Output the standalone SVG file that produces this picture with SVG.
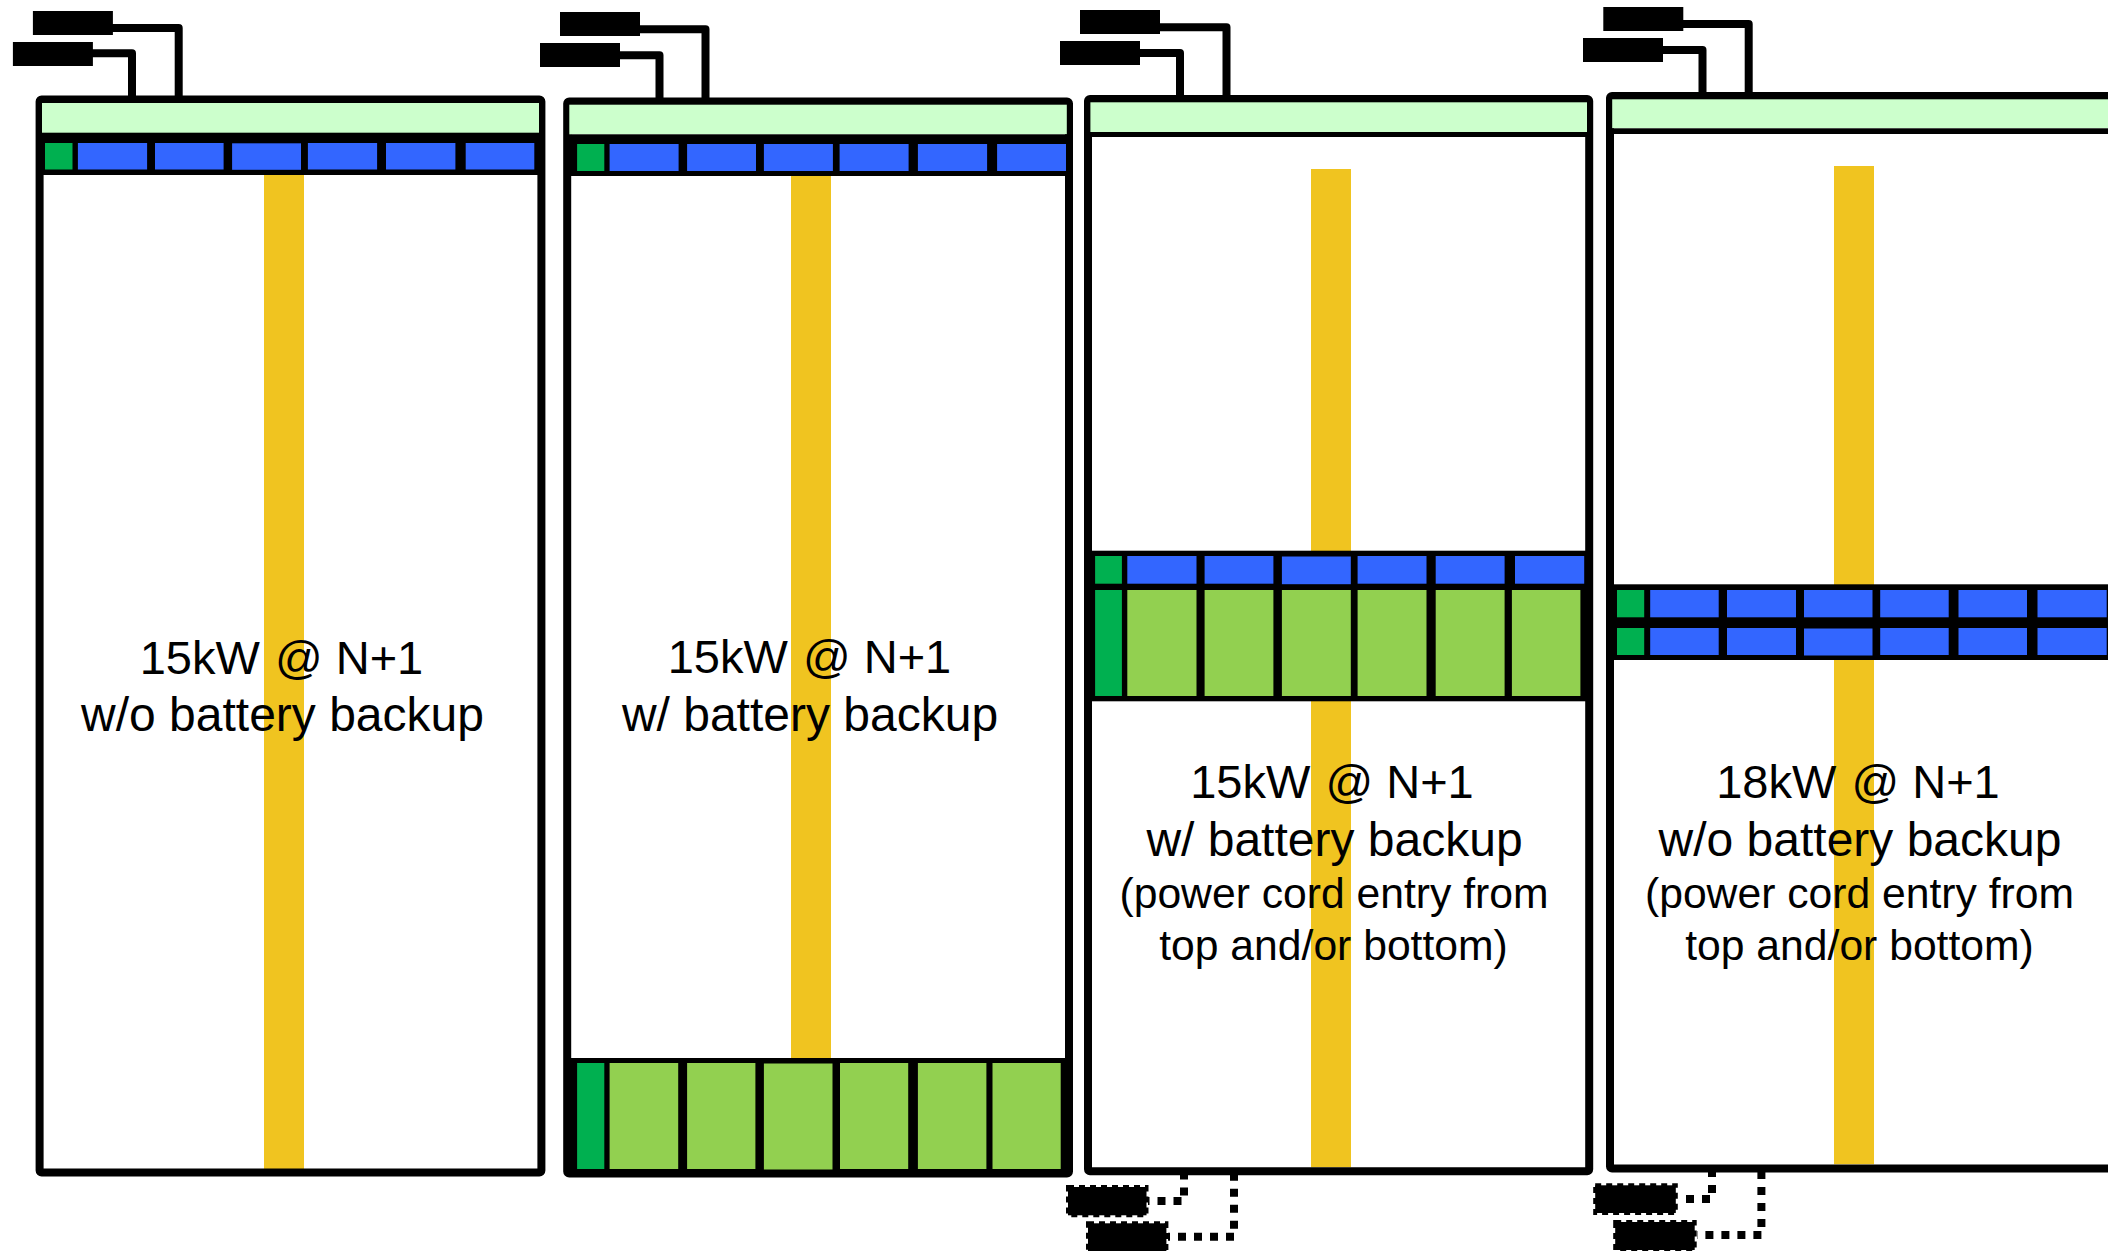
<svg xmlns="http://www.w3.org/2000/svg" width="2108" height="1251" viewBox="0 0 2108 1251">
<style>
.bg{fill:#fff}
.frame{fill:none;stroke:#000;stroke-width:8;stroke-linejoin:round}
.y{fill:#f0c420}
.p{fill:#ccffcc}
.k{fill:#000}
.g{fill:#00b050}
.b{fill:#3366ff}
.l{fill:#92d050}
.cord{fill:none;stroke:#000;stroke-width:8;stroke-linejoin:round}
.cordd{fill:none;stroke:#000;stroke-width:8;stroke-dasharray:8 8}
.plugd{fill:#000;stroke:#000;stroke-width:4;stroke-dasharray:6 5}
text{font-family:"Liberation Sans",Arial,sans-serif;fill:#000;text-anchor:middle}
.t0{font-size:47px}
.t1{font-size:48px}
.t2{font-size:42.67px}
</style>
<rect class="bg" width="2108" height="1251"/>
<g id="rack-1">
<rect class="y" x="264" y="170" width="40" height="999"/>
<rect class="frame" x="39.6" y="99.5" width="501.8" height="1073" rx="2"/>
<rect class="p" x="42" y="103" width="497" height="30"/>
<rect class="k" x="42" y="132.7" width="497" height="42.3"/>
<rect class="g" x="45" y="143" width="27.5" height="26.5"/>
<rect class="b" x="77.9" y="143" width="69.2" height="26.5"/>
<rect class="b" x="155" y="143" width="68.6" height="26.5"/>
<rect class="b" x="232.1" y="143.3" width="68.9" height="26.5"/>
<rect class="b" x="307.9" y="143" width="69.2" height="26.5"/>
<rect class="b" x="386" y="143" width="69.4" height="26.5"/>
<rect class="b" x="465.7" y="143" width="68.6" height="26.5"/>
<text class="t0" x="281.5" y="674">15kW <tspan dx="2">@</tspan> N+1</text>
<text class="t1" x="282.5" y="731">w/o battery backup</text>
</g>
<g id="rack-2">
<rect class="y" x="791" y="170" width="40" height="890"/>
<rect class="frame" x="567.2" y="101.4" width="501.8" height="1072" rx="2"/>
<rect class="p" x="569.3" y="104.7" width="497.5" height="29.6"/>
<rect class="k" x="571" y="134.3" width="496" height="41.7"/>
<rect class="g" x="577.1" y="144" width="27.2" height="27"/>
<rect class="b" x="609.6" y="144" width="69" height="27"/>
<rect class="b" x="687.1" y="144" width="68.9" height="27"/>
<rect class="b" x="763.9" y="144" width="69" height="27"/>
<rect class="b" x="839.6" y="144" width="69" height="27"/>
<rect class="b" x="917.9" y="144" width="69.2" height="27"/>
<rect class="b" x="997.1" y="144" width="68.9" height="27"/>
<rect class="k" x="571" y="1058" width="496" height="115"/>
<rect class="g" x="577.1" y="1063" width="27.2" height="106"/>
<rect class="l" x="609.6" y="1063" width="68.6" height="106"/>
<rect class="l" x="687.1" y="1063" width="68.3" height="106"/>
<rect class="l" x="763.9" y="1063.5" width="68.6" height="106"/>
<rect class="l" x="840" y="1063" width="68.2" height="106"/>
<rect class="l" x="917.9" y="1063" width="68.5" height="106"/>
<rect class="l" x="992.5" y="1063" width="68.2" height="106"/>
<text class="t0" x="809.5" y="673">15kW <tspan dx="2">@</tspan> N+1</text>
<text class="t1" x="810" y="731">w/ battery backup</text>
</g>
<g id="rack-3">
<rect class="y" x="1311" y="169" width="40" height="998.3"/>
<rect class="frame" x="1088" y="99" width="501.2" height="1072.3" rx="2"/>
<rect class="p" x="1090.4" y="102.3" width="496.6" height="29.7"/>
<rect class="k" x="1090" y="132" width="497" height="5"/>
<rect class="k" x="1090" y="550.7" width="497" height="150.6"/>
<rect class="g" x="1095.1" y="556" width="26.8" height="27.7"/>
<rect class="b" x="1127.3" y="556" width="69.2" height="27.7"/>
<rect class="b" x="1204.6" y="556" width="68.8" height="27.7"/>
<rect class="b" x="1281.9" y="556.5" width="68.9" height="27.7"/>
<rect class="b" x="1357.6" y="556" width="68.9" height="27.7"/>
<rect class="b" x="1435.7" y="556" width="68.9" height="27.7"/>
<rect class="b" x="1515" y="556" width="69.2" height="27.7"/>
<rect class="g" x="1095.1" y="590" width="26.8" height="106"/>
<rect class="l" x="1127.3" y="590" width="69.2" height="106"/>
<rect class="l" x="1204.6" y="590" width="68.8" height="106"/>
<rect class="l" x="1281.9" y="590" width="68.9" height="106"/>
<rect class="l" x="1357.6" y="590" width="68.9" height="106"/>
<rect class="l" x="1435.7" y="590" width="68.9" height="106"/>
<rect class="l" x="1511.9" y="590" width="68.5" height="106"/>
<text class="t0" x="1332" y="798.3">15kW <tspan dx="2">@</tspan> N+1</text>
<text class="t1" x="1334.5" y="855.7">w/ battery backup</text>
<text class="t2" x="1334" y="907.7">(power cord entry from</text>
<text class="t2" x="1333.5" y="960">top and/or bottom)</text>
</g>
<g id="rack-4">
<rect class="y" x="1834" y="166" width="40" height="998.3"/>
<rect class="frame" x="1610" y="96" width="520" height="1072.5" rx="2"/>
<rect class="p" x="1612.2" y="99.3" width="496" height="29"/>
<rect class="k" x="1612" y="128.3" width="496" height="5.7"/>
<rect class="k" x="1612" y="584.3" width="496" height="75.7"/>
<rect class="g" x="1617" y="590" width="27.2" height="27.3"/>
<rect class="b" x="1650.2" y="590" width="68.5" height="27.3"/>
<rect class="b" x="1727" y="590" width="69" height="27.3"/>
<rect class="b" x="1804" y="590" width="68.5" height="27.3"/>
<rect class="b" x="1880.2" y="590" width="68.5" height="27.3"/>
<rect class="b" x="1958.5" y="590" width="68.5" height="27.3"/>
<rect class="b" x="2037.5" y="590" width="69.2" height="27.3"/>
<rect class="g" x="1617" y="628" width="27.2" height="27"/>
<rect class="b" x="1650.2" y="628" width="68.5" height="27"/>
<rect class="b" x="1727" y="628" width="69" height="27"/>
<rect class="b" x="1804" y="628.5" width="68.5" height="27"/>
<rect class="b" x="1880.2" y="628" width="68.5" height="27"/>
<rect class="b" x="1958.5" y="628" width="68.5" height="27"/>
<rect class="b" x="2037.5" y="628" width="69.2" height="27"/>
<text class="t0" x="1858" y="798.3">18kW <tspan dx="2">@</tspan> N+1</text>
<text class="t1" x="1860" y="855.7">w/o battery backup</text>
<text class="t2" x="1859.5" y="907.7">(power cord entry from</text>
<text class="t2" x="1859.5" y="960">top and/or bottom)</text>
</g>
<g id="plugs">
<rect id="plug-1a" class="k" x="32.9" y="11" width="80" height="24"/>
<rect id="plug-1b" class="k" x="12.9" y="42" width="80" height="24"/>
<rect id="plug-2a" class="k" x="560" y="12" width="80" height="24"/>
<rect id="plug-2b" class="k" x="540" y="43" width="80" height="24"/>
<rect id="plug-3a" class="k" x="1080" y="10" width="80" height="24"/>
<rect id="plug-3b" class="k" x="1060" y="41" width="80" height="24"/>
<rect id="plug-4a" class="k" x="1603.3" y="7" width="80" height="24"/>
<rect id="plug-4b" class="k" x="1583" y="38" width="80" height="24"/>
<rect id="plug-3c" class="plugd" x="1068" y="1187" width="78.5" height="28.3"/>
<rect id="plug-3d" class="plugd" x="1088" y="1223.3" width="78.4" height="28.3"/>
<rect id="plug-4c" class="plugd" x="1595.2" y="1185.3" width="80.6" height="27.7"/>
<rect id="plug-4d" class="plugd" x="1615.2" y="1222" width="79.5" height="28"/>
</g>
<g id="connectors">
<path class="cord" d="M112 28H178.7V98"/>
<path class="cord" d="M92 53.3H132V98"/>
<path class="cord" d="M639 29.3H705.5V100"/>
<path class="cord" d="M619 55.3H659.5V100"/>
<path class="cord" d="M1159 27.3H1226.5V98"/>
<path class="cord" d="M1139 53H1180V98"/>
<path class="cord" d="M1682 24H1748.7V94"/>
<path class="cord" d="M1662 50H1702.5V94"/>
<path class="cordd" d="M1184 1171.5V1201H1148"/>
<path class="cordd" d="M1234 1172.7V1236.7H1168"/>
<path class="cordd" d="M1712 1169V1199H1678"/>
<path class="cordd" d="M1761.4 1171V1235H1697"/>
</g>
</svg>
